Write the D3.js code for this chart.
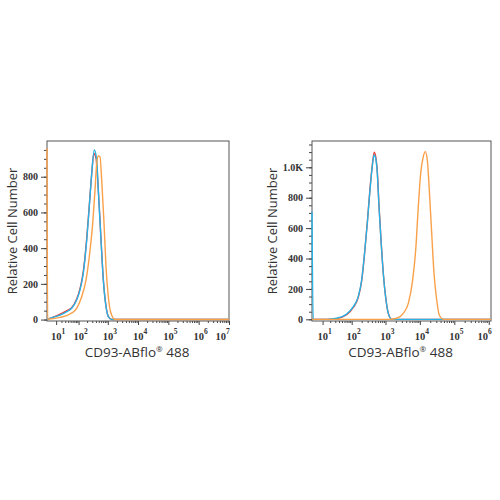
<!DOCTYPE html>
<html>
<head>
<meta charset="utf-8">
<script src="https://cdn.jsdelivr.net/npm/d3@7"></script>
<style>
  body { margin: 0; background: #fff; }
  svg text { fill: #333; }
</style>
</head>
<body>
<svg id="chart" width="500" height="500"></svg>
<script>
// histogram points [fluorescence, count]
var leftRed = [[0,0],[3,8],[17,30],[35,50],[55,66],[85,115],[112,172],[147,268],[194,455],[238,640],[288,815],[340,930],[400,905],[481,730],[593,450],[709,225],[872,75],[1040,18],[1350,0],[1e7,0]];
var leftCyan = [[0,0],[2.6,7],[17,25],[35,44],[55,63],[85,109],[112,165],[147,259],[194,445],[238,632],[288,819],[353,950],[425,893],[481,725],[593,445],[709,221],[872,72],[1040,16],[1350,0],[1e7,0]];
var leftOrange = [[0,960],[0.5,2],[17,12],[47,31],[85,63],[129,128],[183,221],[238,352],[311,539],[373,725],[425,875],[481,916],[549,912],[626,781],[748,539],[872,296],[1040,128],[1280,35],[1740,0],[1e7,0]];

var rightRed = [[2.4,0],[14.7,0],[33.5,5],[70,30],[112,78],[158,145],[200,255],[238,410],[293,635],[352,860],[411,1015],[470,1099],[527,1060],[576,975],[646,750],[739,525],[862,305],[1035,128],[1207,40],[1517,0],[1.16e6,0]];
var rightCyan = [[2.4,708],[3,0],[14.7,0],[33.5,7],[70,35],[112,83],[158,149],[200,259],[238,412],[293,632],[352,851],[411,1004],[461,1081],[527,1048],[576,961],[646,741],[739,522],[862,303],[1035,127],[1207,39],[1517,0],[1.16e6,0]];
var rightOrange = [[2.4,0],[1352,0],[2120,7],[3298,39],[4608,105],[6186,259],[7565,456],[9000,741],[10565,961],[12570,1070],[14375,1103],[16420,1048],[18775,851],[22036,566],[25705,303],[30810,127],[36630,28],[47885,0],[1.16e6,0]];

var leftDecades = [1,2,3,4,5,6,7];
var rightDecades = [1,2,3,4,5,6];
var yTicks = [0,200,400,600,800];
var yTicksRight = [0,200,400,600,800,1000];
var colors = {red:'#ef4136', cyan:'#27b2e6', orange:'#f9a049'};
var xTitle = 'CD93-ABflo';
var yTitle = 'Relative Cell Number';

var svg = d3.select('#chart');

function drawPanel(p){
    var x = d3.scaleSymlog().constant(p.c).domain(p.xdom).range([p.x0,p.x1]);
    var y = d3.scaleLinear().domain(p.ydom).range([p.y1,p.y0]);
    var g = svg.append('g').attr('class',p.id);

    g.append('clipPath').attr('id','clip-'+p.id)
      .append('rect').attr('x',p.x0-1.5).attr('y',p.y0).attr('width',p.x1-p.x0+1.5).attr('height',p.y1-p.y0);

    // y axis, major + minor
    var minorY = d3.range(0,p.ydom[1],50);
    g.append('g').attr('transform','translate('+p.x0+',0)')
      .call(d3.axisLeft(y).tickValues(minorY).tickSize(3).tickFormat(''))
      .call(function(a){a.select('.domain').remove();});
    var ya = g.append('g').attr('transform','translate('+p.x0+',0)')
      .call(d3.axisLeft(y).tickValues(p.yticks).tickSize(6).tickPadding(3)
        .tickFormat(function(d){return d>=1000 ? (d/1000).toFixed(1)+'K' : d;}));
    ya.select('.domain').remove();
    ya.selectAll('text').style('font-family','"Liberation Serif", serif').style('font-size','10px').style('font-weight','bold').attr('fill','#333');
    g.selectAll('.tick line').attr('stroke','#444');

    // x axis, minor then major
    var minorX = [];
    p.decades.forEach(function(n){
        for (var k=2;k<10;k++){ var v=k*Math.pow(10,n-1); if (n>1 && v<=p.xdom[1]) minorX.push(v); }
    });
    g.append('g').attr('transform','translate(0,'+p.y1+')')
      .call(d3.axisBottom(x).tickValues(minorX).tickSize(2).tickFormat(''))
      .call(function(a){a.select('.domain').remove();a.selectAll('line').attr('stroke','#444');});
    var majors = p.decades.map(function(n){return Math.pow(10,n);});
    g.append('g').attr('transform','translate(0,'+p.y1+')')
      .call(d3.axisBottom(x).tickValues(majors).tickSize(4).tickFormat(''))
      .call(function(a){a.select('.domain').remove();a.selectAll('line').attr('stroke','#444');});

    p.decades.forEach(function(n){
        var t = g.append('text').attr('y',340).attr('text-anchor','middle')
          .style('font-family','"Liberation Serif", serif').style('font-size','10.5px').style('font-weight','bold').attr('fill','#333');
        t.append('tspan').text('10');
        t.append('tspan').attr('dy',-6).style('font-size','7.5px').text(n);
        t.attr('x',x(Math.pow(10,n))+2);
        var bb = t.node().getBBox();
        if (bb.x+bb.width > p.x1+1) t.attr('x',+t.attr('x')-(bb.x+bb.width-p.x1-1));
    });

    // curves
    var line = d3.line().x(function(d){return x(d[0]);}).y(function(d){return y(d[1]);}).curve(d3.curveMonotoneX);

    // frame
    g.append('rect').attr('x',p.x0).attr('y',p.y0).attr('width',p.x1-p.x0).attr('height',p.y1-p.y0)
      .attr('fill','none').attr('stroke','#555').attr('stroke-width',1);

    var plot = g.append('g').attr('clip-path','url(#clip-'+p.id+')');
    [['red',p.red],['cyan',p.cyan],['orange',p.orange]].forEach(function(s){
        plot.append('path').datum(s[1]).attr('d',line)
          .attr('fill','none').attr('stroke',colors[s[0]]).attr('stroke-width',1.4);
    });

    // titles
    var xt = g.append('text').attr('x',(p.x0+p.x1)/2-1).attr('y',357).attr('text-anchor','middle')
      .style('font-family','"Open Sans", sans-serif').style('font-size','13.5px');
    xt.append('tspan').text(xTitle);
    xt.append('tspan').attr('dy',-5).style('font-size','8px').text('\u00AE');
    xt.append('tspan').attr('dy',5).text(' 488');
    g.append('text').attr('transform','translate('+p.titleX+','+((p.y0+p.y1)/2)+') rotate(-90)')
      .attr('text-anchor','middle').attr('dy','0.35em')
      .style('font-family','"Open Sans", sans-serif').style('font-size','13px').text(yTitle);
}

drawPanel({id:'left',c:10,xdom:[0,1e7],ydom:[-8,1000],x0:47,x1:229,y0:141,y1:321,titleX:12,
    decades:leftDecades,yticks:yTicks,red:leftRed,cyan:leftCyan,orange:leftOrange});
drawPanel({id:'right',c:5,xdom:[2.4,1.16e6],ydom:[-11,1173],x0:312,x1:491,y0:141,y1:321,titleX:272,
    decades:rightDecades,yticks:yTicksRight,red:rightRed,cyan:rightCyan,orange:rightOrange});
</script>
</body>
</html>
